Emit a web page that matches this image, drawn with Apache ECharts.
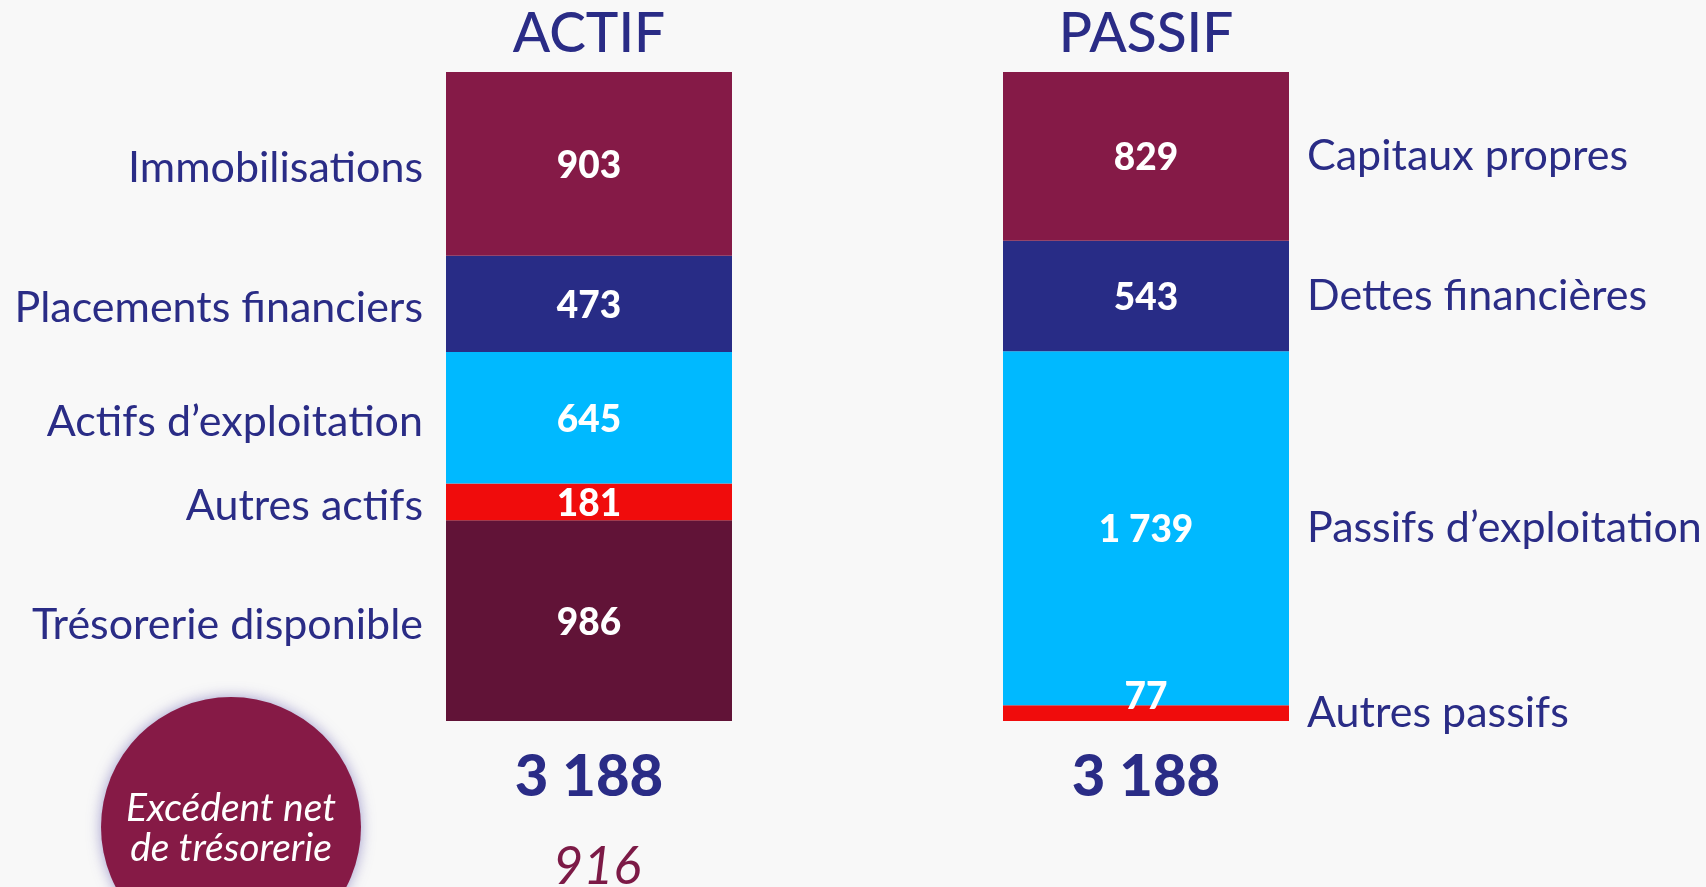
<!DOCTYPE html>
<html><head><meta charset="utf-8">
<script src="https://cdn.jsdelivr.net/npm/echarts@6/dist/echarts.min.js"></script>
<style>html,body{margin:0;padding:0;background:#f8f8f8}#c{width:1706px;height:887px}</style>
</head><body><div id="c"></div>
<script>
const columns = ['ACTIF', 'PASSIF'];
const actifLabels = ['Immobilisations', 'Placements financiers', 'Actifs d\u2019exploitation', 'Autres actifs', 'Trésorerie disponible'];
const actifValues = [903, 473, 645, 181, 986];
const passifLabels = ['Capitaux propres', 'Dettes financières', 'Passifs d\u2019exploitation', 'Autres passifs'];
const passifValues = [829, 543, 1739, 77];
const netCashLabel = ['Excédent net', 'de trésorerie'];
const netCashValue = 916;

const actifColors = ['#851A47', '#282C86', '#00B9FF', '#F00C0C', '#611337'];
const passifColors = ['#851A47', '#282C86', '#00B9FF', '#F00C0C'];
const NAVY = '#2A2C86';
const FONT = 'Lato, "Open Sans", sans-serif';
const BAR_W = 286;

function fmt(v) {
  return String(v).replace(/\B(?=(\d{3})+(?!\d))/g, ' ');
}
const sum = a => a.reduce((s, v) => s + v, 0);
const totals = [sum(actifValues), sum(passifValues)];

const series = [];
function addColumn(colIdx, labels, values, colors, side) {
  let cum = 0;
  for (let i = values.length - 1; i >= 0; i--) {
    const v = values[i];
    const data = columns.map((c, k) => (k === colIdx ? v : '-'));
    const isSmall = v < 100;
    series.push({
      type: 'bar',
      name: labels[i],
      stack: 'bilan',
      barWidth: BAR_W,
      data: data,
      itemStyle: { color: colors[i] },
      label: {
        show: true,
        position: 'inside',
        offset: isSmall ? [0, -16] : [0, 2],
        formatter: p => fmt(p.value),
        color: '#ffffff',
        fontFamily: FONT,
        fontWeight: 900,
        fontSize: 37
      },
      markPoint: {
        symbol: 'rect',
        symbolSize: [BAR_W, 2],
        itemStyle: { color: 'transparent' },
        label: {
          show: true,
          position: side,
          distance: side === 'left' ? 23 : 18,
          offset: side === 'left' ? [0, 4] : [0, 0],
          formatter: labels[i],
          color: NAVY,
          fontFamily: FONT,
          fontSize: 43
        },
        data: [{ coord: [columns[colIdx], cum + v / 2] }]
      }
    });
    cum += v;
  }
}
addColumn(0, actifLabels, actifValues, actifColors, 'left');
addColumn(1, passifLabels, passifValues, passifColors, 'right');

const chart = echarts.init(document.getElementById('c'));
chart.setOption({
  backgroundColor: '#f8f8f8',
  animation: false,
  grid: { left: 310.5, right: 281.5, top: 72, bottom: 166 },
  xAxis: [
    {
      type: 'category', data: columns, position: 'bottom',
      axisLine: { show: false }, axisTick: { show: false },
      axisLabel: {
        margin: 27,
        formatter: (val, idx) => fmt(totals[idx]),
        color: NAVY, fontFamily: FONT, fontWeight: 900, fontSize: 58
      }
    },
    {
      type: 'category', data: columns, position: 'top',
      axisLine: { show: false }, axisTick: { show: false },
      axisLabel: { margin: 10, color: NAVY, fontFamily: FONT, fontSize: 55, fontWeight: 500 }
    }
  ],
  yAxis: { type: 'value', min: 0, max: totals[0], show: false },
  series: series,
  graphic: [
    {
      type: 'circle', shape: { cx: 231, cy: 827, r: 130 },
      style: { fill: '#861A46', shadowBlur: 14, shadowColor: 'rgba(90,80,170,0.55)' }
    },
    {
      type: 'text', x: 231, y: 828,
      style: {
        text: netCashLabel.join('\n'), fill: '#ffffff', fontFamily: FONT, fontStyle: 'italic',
        fontSize: 39, lineHeight: 40, align: 'center', verticalAlign: 'middle'
      }
    },
    {
      type: 'text', x: 597, y: 867,
      style: {
        text: String(netCashValue), fill: '#7C1A46', fontFamily: FONT, fontStyle: 'italic',
        fontSize: 52, align: 'center', verticalAlign: 'middle'
      }
    }
  ]
});
</script>
</body></html>
